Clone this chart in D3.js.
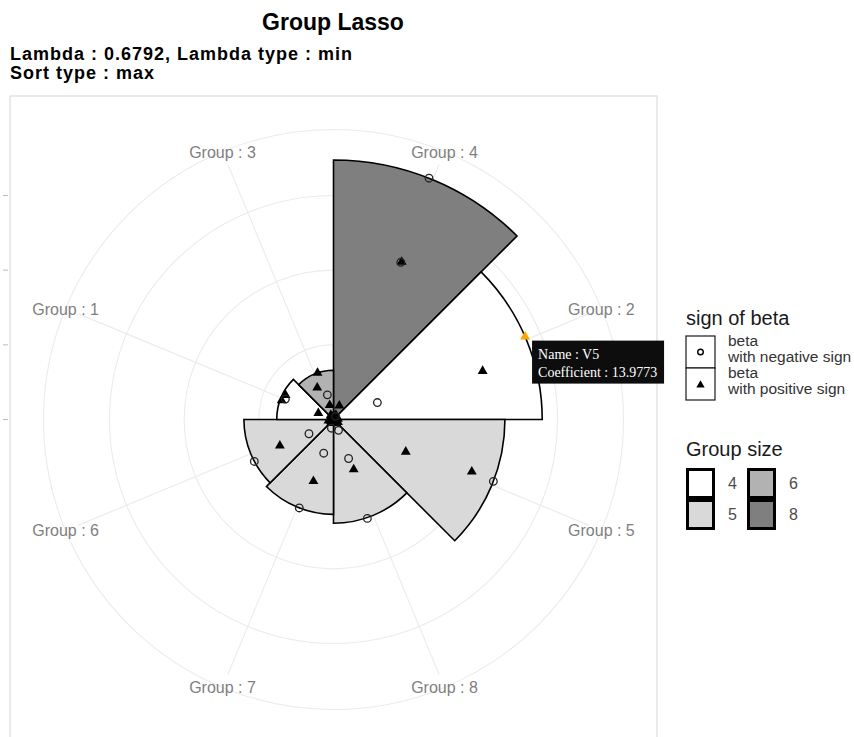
<!DOCTYPE html>
<html>
<head>
<meta charset="utf-8">
<script src="https://cdn.jsdelivr.net/npm/d3@7"></script>
<style>
  body { margin: 0; background: #fff; }
  text { font-family: "Liberation Sans", Arial, sans-serif; }
</style>
</head>
<body>
<div id="chart"></div>
<script>
// groups in plotted (sorted by max) order, clockwise from 12 o'clock
var groups = ["Group : 4", "Group : 2", "Group : 5", "Group : 8", "Group : 7", "Group : 6", "Group : 1", "Group : 3"];
var groupSize = [8, 4, 5, 5, 5, 5, 4, 6];
var groupMax = [17.38, 13.9773, 11.48, 6.95, 6.35, 6.0, 3.8, 3.3];

// one entry per variable: group, coefficient, jitter inside the group band (-0.5..0.5)
var varGroup = [
  "Group : 4", "Group : 4", "Group : 4", "Group : 4", "Group : 4", "Group : 4", "Group : 4", "Group : 4",
  "Group : 2", "Group : 2", "Group : 2", "Group : 2",
  "Group : 5", "Group : 5", "Group : 5", "Group : 5", "Group : 5",
  "Group : 8", "Group : 8", "Group : 8", "Group : 8", "Group : 8",
  "Group : 7", "Group : 7", "Group : 7", "Group : 7", "Group : 7",
  "Group : 6", "Group : 6", "Group : 6", "Group : 6", "Group : 6",
  "Group : 1", "Group : 1", "Group : 1", "Group : 1",
  "Group : 3", "Group : 3", "Group : 3", "Group : 3", "Group : 3", "Group : 3"
];
var varCoef = [
  -17.38, 11.5, -11.45, 1.0, 0.35, 0.2, -0.25, 0.15,
  13.9773, 10.5, -3.15, 0.3,
  -11.48, 9.9, 5.3, 0.35, 0.2,
  -7.0, 3.6, -2.8, -0.8, 0.3,
  -6.35, 4.35, -2.35, -0.6, 0.3,
  -6.0, 4.0, -1.9, 0.35, 0.2,
  3.7, -3.5, 3.6, 1.1,
  3.3, 2.4, -1.7, 1.0, 0.35, 0.2
];
var varJitter = [
  -0.02, 0.02, 0.015, 0.01, 0.1, -0.15, 0.2, 0.3,
  -0.02, 0.1, 0.03, 0.3,
  -0.03, -0.04, 0.035, 0.2, -0.2,
  0.08, 0.01, 0.03, -0.05, -0.25,
  -0.03, -0.1, -0.14, -0.2, 0.25,
  -0.12, -0.08, -0.17, 0.2, -0.25,
  -0.05, 0.01, 0.1, 0.0,
  0.08, -0.1, 0.19, 0.17, -0.2, 0.3
];
var varName = varCoef.map(function (d, i) { return "V" + (i + 1); });
var hoverName = "V9";

var rBreaks = [0, 5, 10, 15];
var sizeLevels = [4, 5, 6, 8];
var sizeFills = ["#ffffff", "#d9d9d9", "#b2b2b2", "#7f7f7f"];

var W = 854, H = 737;
var svg = d3.select("#chart").append("svg").attr("width", W).attr("height", H);

// titles
svg.append("text").attr("x", 333).attr("y", 30).attr("text-anchor", "middle")
  .attr("font-size", 23).attr("font-weight", "bold").text("Group Lasso");
svg.append("text").attr("x", 10).attr("y", 60).attr("letter-spacing", 1)
  .attr("font-size", 18).attr("font-weight", "bold").text("Lambda : 0.6792, Lambda type : min");
svg.append("text").attr("x", 10).attr("y", 79).attr("letter-spacing", 1)
  .attr("font-size", 18).attr("font-weight", "bold").text("Sort type : max");

// panel
var px = 10, py = 96, ps = 647;
var cx = px + ps / 2, cy = py + ps / 2;
svg.append("rect").attr("x", px).attr("y", py).attr("width", ps).attr("height", ps)
  .attr("fill", "none").attr("stroke", "#d4d4d4").attr("stroke-width", 1);

var theta = d3.scaleBand().domain(groups).range([0, 2 * Math.PI]);
var r = d3.scaleLinear().domain([0, 19.42]).range([0, 290]);
var fill = d3.scaleOrdinal().domain(sizeLevels).range(sizeFills);

var g = svg.append("g").attr("transform", "translate(" + cx + "," + cy + ")");

// grid circles
g.selectAll("circle.grid").data(rBreaks.slice(1).concat([r.domain()[1]])).enter()
  .append("circle").attr("class", "grid").attr("r", function (d) { return r(d); })
  .attr("fill", "none").attr("stroke", "#ebebeb").attr("stroke-width", 1.1);

// spokes at group centres
g.selectAll("line.spoke").data(groups).enter().append("line")
  .attr("x1", 0).attr("y1", 0)
  .attr("x2", function (d) { return 276 * Math.sin(theta(d) + theta.bandwidth() / 2); })
  .attr("y2", function (d) { return -276 * Math.cos(theta(d) + theta.bandwidth() / 2); })
  .attr("stroke", "#ebebeb").attr("stroke-width", 1.1);

// r axis ticks on the left (labels fall outside the window)
svg.selectAll("line.rtick").data(rBreaks).enter().append("line")
  .attr("x1", 3).attr("x2", 8)
  .attr("y1", function (d) { return cy - r(d); }).attr("y2", function (d) { return cy - r(d); })
  .attr("stroke", "#bdbdbd");

// group labels
g.selectAll("text.glab").data(groups).enter().append("text")
  .attr("x", function (d) { return 290 * Math.sin(theta(d) + theta.bandwidth() / 2); })
  .attr("y", function (d) { return -290 * Math.cos(theta(d) + theta.bandwidth() / 2) + 6; })
  .attr("text-anchor", "middle").attr("font-size", 16).attr("fill", "#7f7f7f")
  .text(function (d) { return d; });

// bars
var arc = d3.arc().innerRadius(0)
  .outerRadius(function (d, i) { return r(groupMax[i]); })
  .startAngle(function (d) { return theta(d); })
  .endAngle(function (d) { return theta(d) + theta.bandwidth(); });

g.selectAll("path.bar").data(groups).enter().append("path")
  .attr("d", function (d, i) { return arc(d, i); })
  .attr("fill", function (d, i) { return fill(groupSize[i]); })
  .attr("stroke", "#000").attr("stroke-width", 1.6).attr("stroke-linejoin", "miter");

// points
var pts = varCoef.map(function (c, i) {
  var a = theta(varGroup[i]) + theta.bandwidth() * (0.5 + varJitter[i]);
  var rr = r(Math.abs(c));
  return { name: varName[i], coef: c, x: rr * Math.sin(a), y: -rr * Math.cos(a) };
});

var tri = d3.symbol().type(d3.symbolTriangle).size(42);
g.selectAll("path.pos").data(pts.filter(function (d) { return d.coef >= 0; })).enter()
  .append("path")
  .attr("transform", function (d) { return "translate(" + d.x + "," + d.y + ")"; })
  .attr("d", tri)
  .attr("fill", function (d) { return d.name === hoverName ? "#ffa500" : "#000"; });
g.selectAll("circle.neg").data(pts.filter(function (d) { return d.coef < 0; })).enter()
  .append("circle")
  .attr("cx", function (d) { return d.x; }).attr("cy", function (d) { return d.y; })
  .attr("r", 3.8).attr("fill", "none").attr("stroke", "#222").attr("stroke-width", 1.3);

// tooltip for the hovered point
var hp = pts.filter(function (d) { return d.name === hoverName; })[0];
var tip = svg.append("g").attr("transform", "translate(" + (cx + hp.x + 7) + "," + (cy + hp.y + 4) + ")");
tip.append("rect").attr("width", 132).attr("height", 43).attr("fill", "#0d0d0d");
tip.append("text").attr("x", 6).attr("y", 18).attr("fill", "#fff").attr("font-size", 14)
  .style("font-family", "'Liberation Serif', 'Times New Roman', serif").text("Name : V5");
tip.append("text").attr("x", 6).attr("y", 36).attr("fill", "#fff").attr("font-size", 14)
  .style("font-family", "'Liberation Serif', 'Times New Roman', serif")
  .text("Coefficient : " + hp.coef.toFixed(4));

// legend: sign of beta
var lg = svg.append("g").attr("transform", "translate(686,0)");
lg.append("text").attr("x", 0).attr("y", 325).attr("font-size", 20).attr("fill", "#1a1a1a").text("sign of beta");
var signKeys = [{ shape: "circle", l1: "beta", l2: "with negative sign" },
                { shape: "tri", l1: "beta", l2: "with positive sign" }];
signKeys.forEach(function (k, i) {
  var y0 = 336 + i * 32;
  lg.append("rect").attr("x", 0).attr("y", y0).attr("width", 29).attr("height", 32)
    .attr("fill", "#fff").attr("stroke", "#1a1a1a").attr("stroke-width", 1.2);
  if (k.shape === "circle") {
    lg.append("circle").attr("cx", 14.5).attr("cy", y0 + 16).attr("r", 2.8)
      .attr("fill", "none").attr("stroke", "#000").attr("stroke-width", 1.4);
  } else {
    lg.append("path").attr("transform", "translate(14.5," + (y0 + 17) + ")")
      .attr("d", d3.symbol().type(d3.symbolTriangle).size(30)).attr("fill", "#000");
  }
  lg.append("text").attr("x", 42).attr("y", y0 + 10).attr("font-size", 15.5).attr("fill", "#333").text(k.l1);
  lg.append("text").attr("x", 42).attr("y", y0 + 26).attr("font-size", 15.5).attr("fill", "#333").text(k.l2);
});

// legend: group size
lg.append("text").attr("x", 0).attr("y", 456).attr("font-size", 20).attr("fill", "#1a1a1a").text("Group size");
sizeLevels.forEach(function (s, i) {
  var col = Math.floor(i / 2), row = i % 2;
  var x0 = col * 61, y0 = 468 + row * 31;
  lg.append("rect").attr("x", x0 + 1.5).attr("y", y0 + 1.5).attr("width", 26).attr("height", 28)
    .attr("fill", fill(s)).attr("stroke", "#000").attr("stroke-width", 3);
  lg.append("text").attr("x", x0 + 42).attr("y", y0 + 21).attr("font-size", 16).attr("fill", "#4d4d4d").text(s);
});
</script>
</body>
</html>
